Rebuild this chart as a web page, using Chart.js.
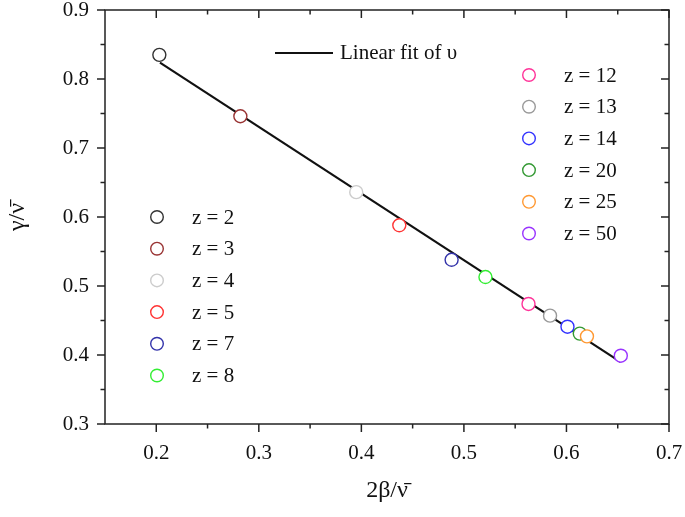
<!DOCTYPE html>
<html>
<head>
<meta charset="utf-8">
<script src="https://cdn.jsdelivr.net/npm/chart.js@4"></script>
<style>
  html, body { margin: 0; padding: 0; background: #fff; }
  #wrap { width: 685px; height: 517px; }
</style>
</head>
<body>
<div id="wrap"><canvas id="chart" width="685" height="517"></canvas></div>
<script>
const Z_LABELS = ['z = 2', 'z = 3', 'z = 4', 'z = 5', 'z = 7', 'z = 8',
                  'z = 12', 'z = 13', 'z = 14', 'z = 20', 'z = 25', 'z = 50'];
const X_VALS = [0.203, 0.282, 0.395, 0.437, 0.488, 0.521, 0.563, 0.584, 0.601, 0.613, 0.620, 0.653];
const Y_VALS = [0.835, 0.746, 0.636, 0.588, 0.538, 0.513, 0.474, 0.457, 0.441, 0.431, 0.427, 0.399];
const COLORS = ['#333333', '#993333', '#cccccc', '#ff3333', '#3333aa', '#33ee33',
                '#ff3399', '#999999', '#3333ff', '#339933', '#ff9933', '#9933ff'];

const FIT_X = [0.2036, 0.6526];
const FIT_Y = [0.8237, 0.390];
const FIT_LABEL = 'Linear fit of \u03c5';

const X_TICKS = [0.2, 0.3, 0.4, 0.5, 0.6, 0.7];
const X_MINOR = [0.25, 0.35, 0.45, 0.55, 0.65];
const Y_TICKS = [0.3, 0.4, 0.5, 0.6, 0.7, 0.8, 0.9];
const Y_MINOR = [0.35, 0.45, 0.55, 0.65, 0.75, 0.85];

const SERIF = '"Liberation Serif", "Times New Roman", serif';
const INK = '#222';

// frame + ticks on all four sides (outside on bottom/left, inside on top/right)
const framePlugin = {
  id: 'frame',
  afterDraw(chart) {
    const { ctx, chartArea: a, scales: { x, y } } = chart;
    ctx.save();
    ctx.strokeStyle = INK;
    ctx.lineWidth = 1.5;
    ctx.strokeRect(a.left, a.top, a.right - a.left, a.bottom - a.top);
    const tick = (x1, y1, x2, y2) => { ctx.beginPath(); ctx.moveTo(x1, y1); ctx.lineTo(x2, y2); ctx.stroke(); };
    const xs = [[X_TICKS, 8], [X_MINOR, 4.5]];
    xs.forEach(([vals, len]) => vals.forEach(v => {
      const px = x.getPixelForValue(v);
      tick(px, a.bottom, px, a.bottom + len);
      tick(px, a.top, px, a.top + len);
    }));
    const ys = [[Y_TICKS, 8], [Y_MINOR, 4.5]];
    ys.forEach(([vals, len]) => vals.forEach(v => {
      const py = y.getPixelForValue(v);
      tick(a.left - len, py, a.left, py);
      tick(a.right - len, py, a.right, py);
    }));
    ctx.restore();
  }
};

// two legend columns plus the fit line key
const legendPlugin = {
  id: 'zlegend',
  afterDraw(chart) {
    const { ctx } = chart;
    ctx.save();
    ctx.font = '21px ' + SERIF;
    ctx.textBaseline = 'middle';
    ctx.fillStyle = '#111';
    const cols = [{ x: 157, y: 217, from: 0, to: 6 }, { x: 529, y: 75, from: 6, to: 12 }];
    cols.forEach(c => {
      for (let i = c.from; i < c.to; i++) {
        const yy = c.y + (i - c.from) * 31.7;
        ctx.beginPath();
        ctx.arc(c.x, yy, 6.3, 0, Math.PI * 2);
        ctx.fillStyle = '#fff';
        ctx.fill();
        ctx.lineWidth = 1.4;
        ctx.strokeStyle = COLORS[i];
        ctx.stroke();
        ctx.fillStyle = '#111';
        ctx.fillText(Z_LABELS[i], c.x + 35, yy + 1);
      }
    });
    ctx.strokeStyle = '#111';
    ctx.lineWidth = 2.2;
    ctx.beginPath();
    ctx.moveTo(275, 53);
    ctx.lineTo(333, 53);
    ctx.stroke();
    ctx.fillText(FIT_LABEL, 340, 53);
    ctx.restore();
  }
};

const datasets = Z_LABELS.map((lab, i) => ({
  label: lab,
  data: [{ x: X_VALS[i], y: Y_VALS[i] }],
  pointStyle: 'circle',
  pointRadius: 6.5,
  pointBorderWidth: 1.4,
  borderColor: COLORS[i],
  backgroundColor: '#fff',
  pointBackgroundColor: '#fff',
  showLine: false,
  order: Z_LABELS.length - i,
}));
datasets.push({
  label: FIT_LABEL,
  data: FIT_X.map((v, i) => ({ x: v, y: FIT_Y[i] })),
  showLine: true,
  borderColor: '#111',
  borderWidth: 2.2,
  pointRadius: 0,
  order: 100,
});

new Chart(document.getElementById('chart'), {
  type: 'scatter',
  data: { datasets },
  plugins: [framePlugin, legendPlugin],
  options: {
    responsive: false,
    animation: false,
    layout: { padding: { top: 10, right: 16, left: 0, bottom: 0 } },
    plugins: { legend: { display: false }, tooltip: { enabled: false } },
    scales: {
      x: {
        type: 'linear',
        min: 0.15,
        max: 0.7,
        afterBuildTicks: s => { s.ticks = X_TICKS.map(v => ({ value: v })); },
        afterFit: s => { s.height = 93; s.paddingLeft = 0; s.paddingRight = 0; },
        grid: { display: false, drawTicks: false },
        border: { display: false },
        ticks: {
          color: '#111',
          font: { family: SERIF, size: 21 },
          padding: 17,
          maxRotation: 0,
          callback: v => Number(v).toFixed(1),
        },
        title: {
          display: true,
          text: '2\u03b2/\u03bd\u0304',
          color: '#111',
          font: { family: SERIF, size: 24 },
          padding: { top: 0, bottom: 12 },
        },
      },
      y: {
        type: 'linear',
        min: 0.3,
        max: 0.9,
        afterBuildTicks: s => { s.ticks = Y_TICKS.map(v => ({ value: v })); },
        afterFit: s => { s.width = 105; s.paddingTop = 0; s.paddingBottom = 0; },
        grid: { display: false, drawTicks: false },
        border: { display: false },
        ticks: {
          color: '#111',
          font: { family: SERIF, size: 21 },
          padding: 16,
          callback: v => Number(v).toFixed(1),
        },
        title: {
          display: true,
          text: '\u03b3/\u03bd\u0304',
          color: '#111',
          font: { family: SERIF, size: 24 },
          padding: { top: 3, bottom: 0 },
        },
      },
    },
  },
});
</script>
</body>
</html>
